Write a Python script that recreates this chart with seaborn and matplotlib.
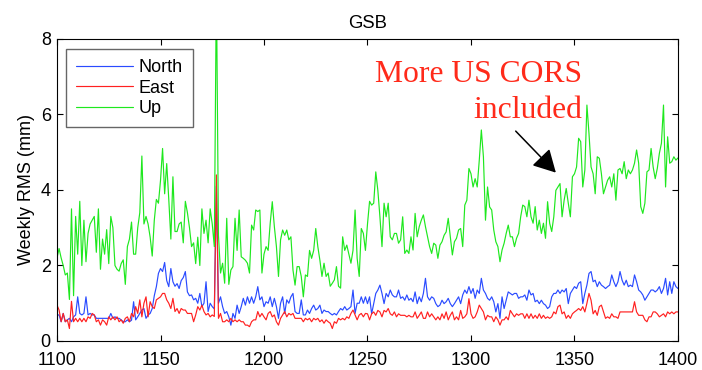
import numpy as np
import pandas as pd
import seaborn as sns
import matplotlib
matplotlib.use("Agg")
from matplotlib import pyplot as plt

# GPS weeks, one value per week
weeks = list(range(1100, 1401))

north = [
    0.69, 0.69, 0.51, 0.73, 0.51, 0.56, 0.6, 0.51, 0.64, 0.69,
    1.17, 0.73, 0.69, 0.73, 1.17, 0.69, 0.73, 0.69,
    0.69, 0.6, 0.6, 0.6, 0.6, 0.6, 0.6, 0.6, 0.73, 0.6,
    0.64, 0.6, 0.6, 0.56, 0.51, 0.51, 0.56, 0.51, 0.55, 1.04,
    0.56, 0.64, 0.73, 0.82, 0.86, 0.6, 0.69, 0.73, 0.86, 1.2,
    1.44, 1.79, 1.92, 1.84, 2.08, 1.6, 1.44, 1.92, 1.57, 1.45,
    1.52, 1.39, 1.6, 1.68, 1.84, 1.3, 1.2, 1.22, 1.09, 1.13,
    1.0, 1.26, 0.91, 1.0, 1.57, 0.78, 1.0, 0.91, 0.85,
    4.1, 1.0,
    1.17, 0.91, 0.73, 0.78, 0.64, 0.42, 0.73, 0.6, 0.95, 0.73,
    0.91, 1.13, 0.95, 1.17, 1.0, 1.17, 1.0, 1.17, 1.44, 1.09,
    1.17, 0.91, 1.04, 1.0, 1.17, 0.91, 1.13, 0.91, 0.6, 1.0,
    1.17, 0.73, 1.09, 1.0, 1.17, 1.26, 0.78, 0.73, 0.73, 1.09,
    0.69, 0.69, 0.82, 0.73, 0.86, 0.95, 0.82, 0.86, 0.95, 0.73,
    0.82, 0.78, 0.78, 0.73, 0.69, 0.73, 0.69, 0.78, 0.86, 0.82,
    0.91, 0.82, 0.86, 0.91, 1.35, 0.73, 1.0, 1.0, 1.17, 1.0,
    1.17,
    0.99, 1.17, 0.72, 0.99, 1.26, 1.35, 1.48, 1.26, 0.99, 1.26,
    1.17, 1.35, 1.22, 1.17, 1.17, 1.35, 1.13, 1.17, 1.08, 1.22,
    1.08, 1.13, 1.04, 1.3, 0.99, 1.17, 1.04, 1.26, 1.66, 1.17,
    1.08, 1.17, 1.13, 0.99, 0.91, 0.95, 1.08, 0.99, 1.04, 1.13,
    0.99, 0.91, 0.99, 1.08, 1.17, 0.99, 1.22, 1.35, 1.26, 1.44,
    1.26, 1.39, 1.13, 1.35, 1.26, 1.66, 1.35, 1.26, 1.13, 1.08,
    1.17, 1.04, 0.77, 0.99, 0.6, 1.17, 0.86, 1.08, 1.3, 1.26,
    1.22, 1.26, 1.26, 1.13, 1.17, 1.17,
    1.22, 1.08, 1.35, 1.22, 1.26, 1.04, 1.08, 0.99, 1.08, 0.99,
    0.95, 0.86, 0.91, 1.17, 1.26, 1.26, 1.35, 1.26, 1.35, 1.3,
    1.39, 0.99, 1.26, 1.35, 1.44, 1.39, 1.53, 1.57, 0.99, 1.26,
    1.48, 1.79, 1.84, 1.57, 1.61, 1.44, 1.57, 1.48, 1.44, 1.39,
    1.44, 1.48, 1.75, 1.57, 1.44, 1.57, 1.84, 1.61, 1.48, 1.61,
    1.44, 1.48, 1.44, 1.75, 1.57, 1.35, 1.3, 1.22, 1.08, 1.17,
    1.26, 1.35, 1.35, 1.3, 1.35, 1.44, 1.26, 1.39, 1.66, 1.22,
    1.57, 1.26, 1.57, 1.44, 1.39,
]

east = [
    0.95, 0.82, 0.51, 0.73, 0.51, 0.56, 0.33, 1.05, 0.51, 0.6,
    0.51, 0.6, 0.51, 0.6, 0.51, 0.64, 0.6, 0.73, 0.69, 0.51,
    0.56, 0.42, 0.56, 0.51, 0.42, 0.64, 0.56, 0.64, 0.56, 0.64,
    0.51, 0.56, 0.47, 0.6, 0.64, 0.51, 0.73, 0.64, 0.91, 0.73,
    1.09, 0.64, 1.0, 1.17, 0.64, 1.04, 0.91, 0.86, 1.09, 1.13,
    1.17, 1.26, 1.26, 1.09, 1.0, 0.86, 1.13, 0.78, 0.86, 0.73,
    0.86, 0.82, 0.82, 0.73, 0.73, 0.73, 0.51, 0.69, 0.91, 0.82,
    0.95, 0.78, 0.69, 0.73, 0.64, 0.69,
    0.65, 4.4, 0.6,
    0.73, 0.51, 0.51, 0.56, 0.51, 0.6, 0.51, 0.56, 0.51, 0.56,
    0.51, 0.51, 0.42, 0.42, 0.38, 0.51, 0.56, 0.56, 0.78, 0.64,
    0.73, 0.64, 0.56, 0.73, 0.78, 0.64, 0.69, 0.51, 0.42, 0.6,
    0.69, 0.78, 0.64, 0.73, 0.69, 0.73, 0.6, 0.6, 0.6, 0.6,
    0.51, 0.6, 0.56, 0.6, 0.51, 0.6, 0.56, 0.6, 0.51, 0.56,
    0.47, 0.56, 0.51, 0.47, 0.33, 0.51, 0.47, 0.6, 0.56, 0.6,
    0.56, 0.64, 0.6, 0.73, 0.82, 0.69, 0.56, 0.69, 0.73, 0.64,
    0.73,
    0.72, 0.56, 0.72, 0.77, 0.68, 0.81, 0.77, 0.64, 0.81, 0.77,
    0.86, 0.72, 0.68, 0.77, 0.64, 0.72, 0.68, 0.68, 0.68, 0.64,
    0.68, 0.64, 0.64, 0.77, 0.6, 0.68, 0.77, 0.6, 0.6, 0.77,
    0.64, 0.72, 0.64, 0.56, 0.64, 0.56, 0.72, 0.6, 0.77, 0.56,
    0.68, 0.77, 0.56, 0.64, 0.56, 0.81, 0.6, 0.64, 0.72, 1.12,
    0.72, 0.6, 0.64, 0.77, 0.95, 0.86, 0.77, 0.56, 0.68, 0.64,
    0.64, 0.51, 0.64, 0.56, 0.42, 0.56, 0.56, 0.64, 0.56, 0.81,
    0.72, 0.64, 0.72, 0.68, 0.72, 0.72,
    0.6, 0.72, 0.6, 0.72, 0.6, 0.68, 0.6, 0.72, 0.6, 0.68,
    0.6, 0.64, 0.6, 0.64, 0.77, 0.72, 0.91, 0.95, 0.72, 0.77,
    0.6, 0.68, 0.6, 0.72, 0.77, 0.81, 0.86, 0.81, 0.91, 0.77,
    1.0, 1.26, 1.08, 0.72, 0.81, 0.68, 0.91, 0.95, 0.77, 0.6,
    0.64, 0.6, 0.72, 0.64, 0.64, 0.6, 0.77, 0.77, 0.77, 0.77,
    0.77, 0.77, 0.77, 1.04, 0.77, 0.68, 0.68, 0.68, 0.56, 0.51,
    0.64, 0.64, 0.77, 0.77, 0.72, 0.64, 0.68, 0.72, 0.64, 0.77,
    0.72, 0.77, 0.72, 0.77, 0.77,
]

up = [
    2.2, 2.45, 2.2, 2.0, 1.75, 1.8, 1.1, 3.5, 1.2, 3.3,
    2.3, 3.7, 2.0, 3.2, 2.1, 2.85, 3.1, 3.2, 3.3, 2.35,
    3.5, 1.9, 2.7, 2.3, 2.95, 2.05, 3.3, 3.0, 2.0, 1.9,
    1.85, 2.05, 2.15, 1.5, 2.5, 2.7, 3.15, 2.3, 2.3, 3.0,
    3.4, 4.9, 3.1, 3.3, 3.1, 2.75, 2.25, 3.2, 3.75, 3.65,
    4.25, 5.1, 3.9, 4.7, 3.75, 2.7, 4.35, 2.9, 2.9, 3.1,
    3.15, 2.6, 3.7, 3.4, 3.0, 2.5, 2.6, 2.05, 2.75, 2.0,
    3.5, 2.85, 3.2, 2.6, 3.5, 3.1, 2.5,
    9.5,
    2.8, 1.8, 2.06, 1.53, 3.25, 1.5, 1.88, 1.97, 3.25, 2.4,
    3.47, 2.23, 2.19, 2.14, 2.06, 1.8, 3.07, 2.94, 3.47, 3.43,
    3.47, 1.8, 2.3, 2.5, 2.4, 3.12, 3.69, 3.03, 2.5, 1.71,
    2.68, 2.94, 2.8, 2.94, 2.68, 2.76, 1.88, 1.48, 1.97, 1.97,
    1.71, 1.17, 1.75, 1.71, 2.4, 2.19, 2.4, 2.98, 2.5, 2.14,
    1.71, 2.06, 1.71, 1.8, 1.45, 1.53, 1.62, 1.97, 1.45, 1.4,
    2.76, 2.4, 2.54, 2.3, 2.06, 2.4, 3.47, 2.19, 1.71, 2.98,
    2.85, 2.4, 3.1, 3.7,
    3.6, 3.65, 4.48, 3.99, 3.29, 2.5, 3.65, 3.29, 3.65, 2.76,
    2.68, 2.85, 2.85, 2.59, 2.68, 3.29, 2.32, 2.41, 2.32, 2.76,
    2.41, 3.38, 2.76, 3.03, 3.2, 3.34, 3.03, 2.76, 2.5, 2.32,
    2.59, 2.54, 2.19, 2.54, 2.63, 2.8, 2.89, 3.25, 2.76, 2.28,
    2.63, 2.72, 2.94, 2.98, 2.5, 3.6, 3.73, 4.57, 4.43, 4.08,
    4.3, 4.08, 4.79, 5.59, 4.88, 3.2, 4.08, 3.55, 3.47, 2.94,
    2.63, 2.5, 2.1, 2.41, 2.59, 2.85, 3.07, 2.76, 2.76, 2.5,
    2.72, 2.85, 3.29, 3.6,
    3.56, 3.29, 3.73, 3.29, 3.12, 3.56, 2.94, 3.2, 2.85, 3.12,
    2.72, 3.69, 3.12, 2.9, 3.29, 3.99, 4.08, 4.17, 3.29, 3.73,
    4.04, 3.65, 3.29, 4.35, 4.43, 4.61, 5.37, 5.28, 4.08, 4.53,
    6.25, 5.5, 4.61, 4.43, 3.9, 4.88, 4.84, 4.43, 3.9, 4.08,
    4.26, 4.35, 4.08, 4.43, 3.73, 4.53, 4.57, 4.43, 4.75, 4.3,
    4.53, 4.43, 4.53, 4.71, 5.06, 4.71, 3.56, 3.38, 3.65, 4.48,
    4.53, 5.1, 4.61, 4.3, 4.57, 4.97, 5.24, 6.25, 4.08, 5.41,
    4.71, 4.75, 4.88, 4.79, 4.85,
]

components = ["North", "East", "Up"]
colors = ["#2a4bff", "#ff2020", "#1ee81e"]

df = pd.concat(
    [pd.DataFrame({"week": weeks, "rms": vals, "component": name})
     for name, vals in zip(components, [north, east, up])],
    ignore_index=True,
)

sns.set_style("ticks")
plt.rcParams["font.family"] = ["Liberation Sans", "DejaVu Sans"]
plt.rcParams["text.color"] = "black"
plt.rcParams["axes.labelcolor"] = "black"

fig, ax = plt.subplots(figsize=(7.02, 3.70), dpi=100)
fig.subplots_adjust(left=0.0812, right=0.9658, bottom=0.0784, top=0.8946)

sns.lineplot(
    data=df, x="week", y="rms", hue="component",
    hue_order=components, palette=colors,
    estimator=None, sort=False, linewidth=0.85, ax=ax,
)

ax.set_xlim(1100, 1400)
ax.set_ylim(0, 8)
ax.set_xticks(range(1100, 1401, 50))
ax.set_yticks(range(0, 9, 2))
ax.tick_params(direction="in", top=True, right=True, length=4.3, width=0.8,
               labelsize=13, colors="black")
ax.tick_params(axis="x", pad=8)
ax.tick_params(axis="y", pad=4.5)
for sp in ax.spines.values():
    sp.set_visible(True)
    sp.set_linewidth(0.8)
    sp.set_color("black")

ax.set_xlabel("")
ax.set_ylabel("Weekly RMS (mm)", fontsize=13, labelpad=4, color="black")
ax.set_title("GSB", fontsize=13.3, pad=8, color="black")

handles, labels = ax.get_legend_handles_labels()
legend = ax.legend(
    handles, labels, loc="upper left", bbox_to_anchor=(0.014, 0.967),
    borderaxespad=0, fontsize=13, frameon=True, fancybox=False,
    edgecolor="#666666", framealpha=1, handlelength=3.15,
    handletextpad=0.35, labelspacing=0.2, borderpad=0.55,
    labelcolor="black",
)
legend.get_frame().set_linewidth(1.0)

# annotation
serif = ["Liberation Serif", "DejaVu Serif"]
ax.text(1353.6, 6.86, "More US CORS", color="#ff2a1a", fontsize=22.8,
        family=serif, ha="right", va="baseline")
ax.text(1353.6, 5.9, "included", color="#ff2a1a", fontsize=22.8,
        family=serif, ha="right", va="baseline")
ax.annotate(
    "", xy=(1341, 4.46), xytext=(1321.6, 5.56),
    arrowprops=dict(arrowstyle="-|>,head_length=0.55,head_width=0.3",
                    color="black", lw=1.1, mutation_scale=25,
                    shrinkA=0, shrinkB=0),
)

plt.savefig("out.png", dpi=100)
plt.close()
